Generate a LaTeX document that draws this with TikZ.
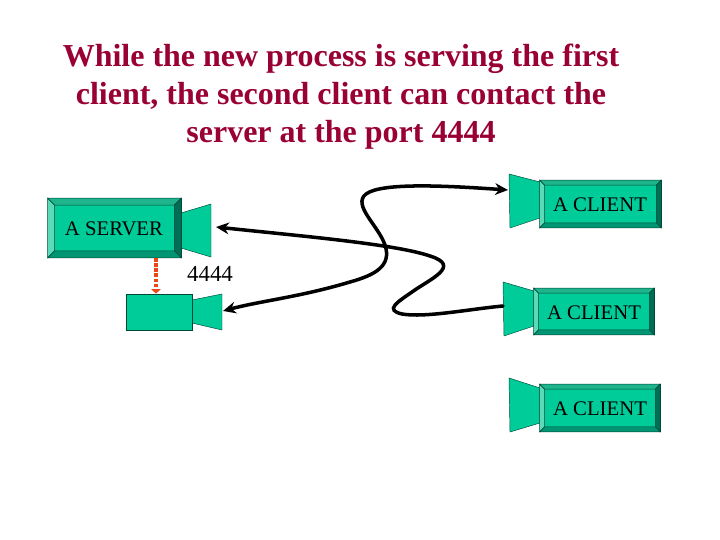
\documentclass[tikz,border=0pt]{standalone}
\usepackage{xcolor}
\usepackage{fontspec}
\setmainfont{Liberation Serif}
\usetikzlibrary{calc,arrows.meta}
\definecolor{titlered}{RGB}{153, 0, 51}
\definecolor{facegreen}{RGB}{0, 204, 153}
\definecolor{darkline}{RGB}{0, 70, 55}
\definecolor{bevellight}{RGB}{90, 218, 182}
\definecolor{beveltop}{RGB}{30, 180, 140}
\definecolor{bevelright}{RGB}{0, 110, 85}
\definecolor{bevelbottom}{RGB}{0, 150, 115}
\definecolor{tapred}{RGB}{235, 70, 25}
\tikzset{
    facebox/.style={draw=darkline, fill=facegreen, line width=0.5pt, inner sep=0pt},
    boxlabel/.style={text=black, font=\fontsize{17.7}{20}\selectfont},
    lensbox/.style={draw=darkline, fill=facegreen, line width=0.4pt},
    wire/.style={draw=black, line width=3pt, line cap=round}
}
\newcommand{\bevel}[2]{
    \coordinate (#1a) at ($(#1.north west)+(#2,#2)$);
    \coordinate (#1b) at ($(#1.north east)+(-#2,#2)$);
    \coordinate (#1c) at ($(#1.south east)+(-#2,-#2)$);
    \coordinate (#1d) at ($(#1.south west)+(#2,-#2)$);
    \filldraw[draw=darkline, line width=0.4pt, fill=bevellight] (#1.north west) -- (#1a) -- (#1d) -- (#1.south west) -- cycle;
    \filldraw[draw=darkline, line width=0.4pt, fill=beveltop] (#1.north west) -- (#1.north east) -- (#1b) -- (#1a) -- cycle;
    \filldraw[draw=darkline, line width=0.4pt, fill=bevelright] (#1.north east) -- (#1.south east) -- (#1c) -- (#1b) -- cycle;
    \filldraw[draw=darkline, line width=0.4pt, fill=bevelbottom] (#1.south west) -- (#1d) -- (#1c) -- (#1.south east) -- cycle;
}
\begin{document}
\begin{tikzpicture}[x=0.03cm, y=-0.03cm]
    \useasboundingbox (0,0) rectangle (720,540);
    \node[align=center, text=titlered, font=\bfseries\fontsize{27.3}{32.4}\selectfont] (title) at (341,97) {While the new process is serving the first\\client, the second client can contact the\\server at the port 4444};

    % lenses
    \filldraw[lensbox] (181,213) -- (211,204) -- (211,257) -- (181,248) -- cycle;
    \filldraw[lensbox] (192,300) -- (222,294) -- (222,330) -- (192,323) -- cycle;
    \filldraw[lensbox] (540,182) -- (509,174) -- (510,228) -- (540,218) -- cycle;
    \filldraw[lensbox] (534,291) -- (503,282) -- (504,336) -- (534,326) -- cycle;
    \filldraw[lensbox] (540,388) -- (509,378) -- (510,432) -- (540,423) -- cycle;

    % boxes
    \node[facebox, minimum width=133*0.03cm, minimum height=59*0.03cm] (server) at (114.5,228) {};
    \bevel{server}{7}
    \node[boxlabel] (serverlabel) at (114,229) {A SERVER};
    \node[facebox, minimum width=66*0.03cm, minimum height=36*0.03cm] (child) at (159,312) {};
    \node[facebox, minimum width=121*0.03cm, minimum height=47*0.03cm] (clienta) at (600.5,204) {};
    \bevel{clienta}{5}
    \node[boxlabel] (clientalabel) at (600,205) {A CLIENT};
    \node[facebox, minimum width=120*0.03cm, minimum height=46*0.03cm] (clientb) at (594,311.5) {};
    \bevel{clientb}{5}
    \node[boxlabel] (clientblabel) at (594,313) {A CLIENT};
    \node[facebox, minimum width=120*0.03cm, minimum height=47*0.03cm] (clientc) at (600,408) {};
    \bevel{clientc}{5}
    \node[boxlabel] (clientclabel) at (600,409) {A CLIENT};

    \node[font=\fontsize{19.6}{22}\selectfont] (port) at (210,274) {4444};

    % connector ends at the lenses
    \coordinate (serverlens) at (216,227);
    \coordinate (childlens) at (223,311);
    \coordinate (clientalens) at (508,190);
    \coordinate (clientblens) at (503,306);
    \coordinate (tap) at (156,258);

    \draw[draw=tapred, line width=3.4pt, dash pattern=on 3pt off 1.4pt, -{Triangle[length=4pt,width=8pt]}] (tap) -- (tap |- child.north);
    \draw[wire, -{Stealth[length=11pt,width=10pt]}] (clientblens) .. controls (470,309) and (425,318) .. (402,314)
        .. controls (385,310) and (396,303) .. (412,292)
        .. controls (430,279) and (462,266) .. (430,256)
        .. controls (395,244) and (300,236) .. (serverlens);
    \draw[wire, {Stealth[length=11pt,width=10pt]}-{Stealth[length=11pt,width=10pt]}] (childlens) .. controls (260,301) and (300,297) .. (350,282)
        .. controls (375,275) and (392,266) .. (385,245)
        .. controls (378,225) and (352,205) .. (366,194)
        .. controls (382,182) and (450,186) .. (clientalens);
\end{tikzpicture}
\end{document}
